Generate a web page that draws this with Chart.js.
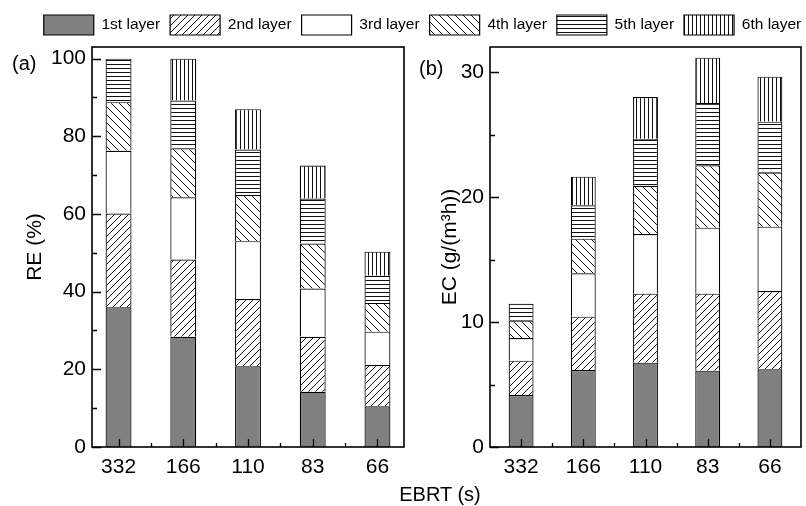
<!DOCTYPE html>
<html>
<head>
<meta charset="utf-8">
<script src="https://cdn.jsdelivr.net/npm/chart.js@4.4.1/dist/chart.umd.min.js"></script>
<style>
html, body { margin: 0; padding: 0; background: #fff; overflow: hidden; }
#wrap { position: relative; width: 806px; height: 506px; overflow: hidden; background: #fff; }
#wrap canvas { position: absolute; left: 0; top: 0; }
.lbl { position: absolute; font: 20px 'Liberation Sans', Arial, sans-serif; color: #000; line-height: 24px; white-space: nowrap; }
</style>
</head>
<body>
<div id="wrap">
  <canvas id="cA" width="845" height="506" style="width:845px;height:506px"></canvas>
  <canvas id="cB" width="806" height="506" style="width:806px;height:506px"></canvas>
  <div class="lbl" style="left:12px;top:51px">(a)</div>
  <div class="lbl" style="left:419px;top:56px">(b)</div>
  <div class="lbl" style="left:340px;width:200px;text-align:center;top:482px">EBRT (s)</div>
</div>
<script>
// ---- data ----
const categories = ['332', '166', '110', '83', '66'];
const layerNames = ['1st layer', '2nd layer', '3rd layer', '4th layer', '5th layer', '6th layer'];

// (a) removal efficiency RE (%) contributed by each layer
const reLayer1 = [36.0, 28.4, 20.8, 14.2, 10.5];
const reLayer2 = [24.1, 19.9, 17.3, 14.2, 10.6];
const reLayer3 = [16.2, 16.0, 14.9, 12.4, 8.6];
const reLayer4 = [12.5, 12.6, 11.9, 11.6, 7.4];
const reLayer5 = [11.2, 12.3, 11.7, 11.6, 7.0];
const reLayer6 = [0.0, 10.8, 10.4, 8.5, 6.2];

// (b) elimination capacity EC (g/(m3 h)) contributed by each layer
const ecLayer1 = [4.16, 6.16, 6.75, 6.11, 6.22];
const ecLayer2 = [2.75, 4.27, 5.52, 6.16, 6.26];
const ecLayer3 = [1.81, 3.47, 4.77, 5.28, 5.15];
const ecLayer4 = [1.39, 2.77, 3.86, 4.99, 4.32];
const ecLayer5 = [1.36, 2.67, 3.77, 4.98, 4.08];
const ecLayer6 = [0.00, 2.29, 3.33, 3.63, 3.60];

const reTickStep = 20;
const ecTickStep = 10;

// ---- styles ----
const FONT = "'Liberation Sans', Arial, sans-serif";
Chart.defaults.font.family = FONT;
Chart.defaults.color = '#000';

function makePattern(kind) {
  const s = kind === 'slash' ? 7 : kind === 'backslash' ? 8 : 4;
  const c = document.createElement('canvas');
  c.width = s; c.height = s;
  const g = c.getContext('2d');
  g.fillStyle = '#fff';
  g.fillRect(0, 0, s, s);
  g.strokeStyle = '#111';
  g.lineWidth = 1;
  g.beginPath();
  if (kind === 'slash') {
    g.moveTo(0, s); g.lineTo(s, 0);
    g.moveTo(-1, 1); g.lineTo(1, -1);
    g.moveTo(s - 1, s + 1); g.lineTo(s + 1, s - 1);
  } else if (kind === 'backslash') {
    g.moveTo(0, 0); g.lineTo(s, s);
    g.moveTo(-1, s - 1); g.lineTo(1, s + 1);
    g.moveTo(s - 1, -1); g.lineTo(s + 1, 1);
  } else if (kind === 'hline') {
    g.moveTo(0, 0.5); g.lineTo(s, 0.5);
  } else {
    g.moveTo(0.5, 0); g.lineTo(0.5, s);
  }
  g.stroke();
  return g.createPattern(c, 'repeat');
}

const fills = ['#808080', makePattern('slash'), '#ffffff', makePattern('backslash'), makePattern('hline'), makePattern('vline')];

function buildDatasets(layers) {
  return layers.map((vals, i) => ({
    label: layerNames[i],
    data: vals.map((v, j) => ({ x: j, y: v })),
    backgroundColor: fills[i],
    borderColor: '#000',
    borderWidth: 1.2,
    borderSkipped: 'start',
    barPercentage: 0.4,
    categoryPercentage: 1,
    xAxisID: 'x',
    yAxisID: 'y'
  }));
}

// frame + inward tick marks, drawn from the chart's own scales
const frameTicks = {
  id: 'frameTicks',
  afterDatasetsDraw(chart) {
    const { ctx, chartArea: a } = chart;
    const xs = chart.scales.x, ys = chart.scales.y;
    ctx.save();
    ctx.strokeStyle = '#000';
    ctx.lineWidth = 1.3;
    ctx.beginPath();
    const yv = ys.ticks.map(t => t.value);
    const yStep = yv[1] - yv[0];
    yv.forEach(v => {
      const p = Math.round(ys.getPixelForValue(v)) + 0.5;
      ctx.moveTo(a.left, p); ctx.lineTo(a.left + 9, p);
      const m = v + yStep / 2;
      if (m <= ys.max) {
        const q = Math.round(ys.getPixelForValue(m)) + 0.5;
        ctx.moveTo(a.left, q); ctx.lineTo(a.left + 5, q);
      }
    });
    const xv = xs.ticks.map(t => t.value);
    xv.forEach((v, i) => {
      const p = Math.round(xs.getPixelForValue(v)) + 0.5;
      ctx.moveTo(p, a.bottom); ctx.lineTo(p, a.bottom - 8);
      if (i < xv.length - 1) {
        const q = Math.round(xs.getPixelForValue((v + xv[i + 1]) / 2)) + 0.5;
        ctx.moveTo(q, a.bottom); ctx.lineTo(q, a.bottom - 4);
      }
    });
    ctx.stroke();
    ctx.lineWidth = 1.6;
    ctx.strokeRect(a.left, a.top, a.width, a.height);
    ctx.restore();
  }
};

function xScale(min, max) {
  return {
    type: 'linear',
    position: 'bottom',
    bounds: 'data',
    offset: false,
    stacked: true,
    min: min,
    max: max,
    afterBuildTicks: s => { s.ticks = categories.map((_, i) => ({ value: i })); },
    afterFit: s => { s.height = 59; },
    grid: { display: false, drawTicks: false, offset: false },
    border: { display: false },
    ticks: {
      font: { size: 21 },
      color: '#000',
      padding: 8,
      maxRotation: 0,
      autoSkip: false,
      callback: v => categories[v]
    }
  };
}

function yScale(max, step, title, width, titlePad) {
  return {
    type: 'linear',
    position: 'left',
    stacked: true,
    min: 0,
    max: max,
    afterFit: s => { s.width = width; },
    grid: { display: false, drawTicks: false },
    border: { display: false },
    ticks: {
      stepSize: step,
      includeBounds: false,
      font: { size: 21 },
      color: '#000',
      padding: 6
    },
    title: {
      display: true,
      text: title,
      font: { size: 21 },
      color: '#000',
      padding: { top: titlePad, bottom: 0 }
    }
  };
}

const common = {
  responsive: false,
  animation: false,
  devicePixelRatio: 1,
  events: []
};

// panel (a) — carries the shared legend
new Chart(document.getElementById('cA'), {
  type: 'bar',
  data: { datasets: buildDatasets([reLayer1, reLayer2, reLayer3, reLayer4, reLayer5, reLayer6]) },
  options: Object.assign({}, common, {
    layout: { padding: { top: 5, left: 0, right: 0, bottom: 0 } },
    scales: {
      x: xScale(-0.41, 4.41),
      y: yScale(103, reTickStep, 'RE (%)', 92, 23),
      xPad: {
        type: 'linear', position: 'top', display: true,
        grid: { display: false, drawTicks: false }, border: { display: false },
        ticks: { display: false },
        afterFit: s => { s.height = 2; }
      },
      yPad: {
        type: 'linear', position: 'right', display: true,
        grid: { display: false, drawTicks: false }, border: { display: false },
        ticks: { display: false },
        afterFit: s => { s.width = 441; }
      }
    },
    plugins: {
      tooltip: { enabled: false },
      legend: {
        display: true,
        position: 'top',
        align: 'center',
        labels: {
          boxWidth: 50,
          boxHeight: 20,
          padding: 10,
          color: '#000',
          font: { size: 15.5, family: FONT }
        }
      }
    }
  }),
  plugins: [frameTicks]
});

// panel (b)
new Chart(document.getElementById('cB'), {
  type: 'bar',
  data: { datasets: buildDatasets([ecLayer1, ecLayer2, ecLayer3, ecLayer4, ecLayer5, ecLayer6]) },
  options: Object.assign({}, common, {
    layout: { padding: { top: 47, left: 400, right: 5, bottom: 0 } },
    scales: {
      x: xScale(-0.5, 4.5),
      y: yScale(32, ecTickStep, 'EC (g/(m³h))', 90, 38)
    },
    plugins: {
      tooltip: { enabled: false },
      legend: { display: false }
    }
  }),
  plugins: [frameTicks]
});
</script>
</body>
</html>
